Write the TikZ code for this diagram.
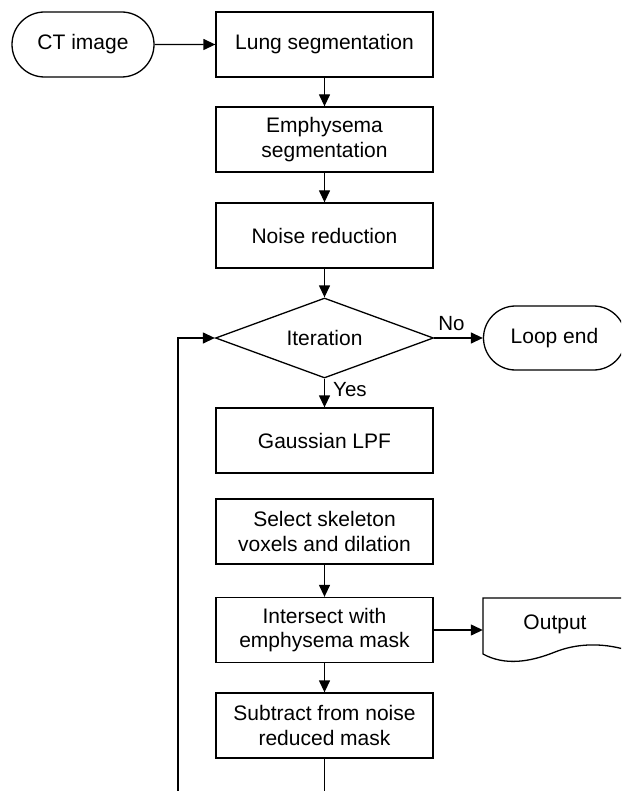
\documentclass[tikz,border=0pt]{standalone}
\usepackage{fontspec}
\setmainfont{Liberation Sans}
\usetikzlibrary{shapes.geometric,shapes.misc,arrows.meta}
\begin{document}
\begin{tikzpicture}[x=1pt,y=-1pt,
  every node/.style={font=\fontsize{21}{24.5}\selectfont, inner sep=0pt},
  procbox/.style={draw, line width=1.3pt, rectangle, minimum width=217pt, minimum height=65pt, align=center},
  term/.style={draw, line width=1.3pt, rounded rectangle, minimum width=142pt, minimum height=65pt},
  decide/.style={draw, line width=1.3pt, diamond, minimum width=218pt, minimum height=80pt, aspect=2.7},
  conn/.style={line width=1.3pt, -{Triangle[length=12pt,width=11pt]}},
  plain/.style={line width=1.3pt},
  lbl/.style={font=\fontsize{20.5}{24}\selectfont}
]
\useasboundingbox (0,0) rectangle (621,791);
\clip (0,0) rectangle (621,791);
\fill[white] (0,0) rectangle (621,791);

\node[term] (ct) at (83,44.5) {CT image};
\node[procbox] (lung) at (324.5,44.5) {Lung segmentation};
\node[procbox] (emph) at (324.5,139.5) {Emphysema\\segmentation};
\node[procbox] (noise) at (324.5,235.5) {Noise reduction};
\node[decide] (iter) at (324.5,338) {Iteration};
\node[term, minimum height=64pt] (loop) at (554.5,338) {Loop end};
\node[procbox] (gauss) at (324.5,440.5) {Gaussian LPF};
\node[procbox] (sel) at (324.5,531.5) {Select skeleton\\voxels and dilation};
\node[procbox] (inter) at (324.5,630) {Intersect with\\emphysema mask};
\node[procbox] (sub) at (324.5,725.5) {Subtract from noise\\reduced mask};

% Output document shape
\draw[plain] (483,598) -- (627,598) -- (627,650)
  .. controls (600,642) and (575,644) .. (555,652)
  .. controls (530,662) and (505,666) .. (483,654) -- cycle;
\node[minimum width=144pt, minimum height=56pt] (out) at (555,630) {};
\node (outtext) at (555,624) {Output};

\node[lbl] (no) at (451.5,324) {No};
\node[lbl, anchor=west] (yes) at (333,390) {Yes};

\coordinate (bottomr) at (324.5,810);
\coordinate (bottoml) at (178,810);
\coordinate (backup) at (178,338);

\draw[conn] (ct) -- (lung);
\draw[conn] (lung) -- (emph);
\draw[conn] (emph) -- (noise);
\draw[conn] (noise) -- (iter.north);
\draw[conn] (iter.east) -- (loop.west);
\draw[conn] (iter.south) -- (gauss);
\draw[conn] (sel) -- (inter);
\draw[conn] (inter.east) -- (out.west);
\draw[conn] (inter) -- (sub);
\draw[conn] (sub.south) -- (bottomr) -- (bottoml) -- (backup) -- (iter.west);
\end{tikzpicture}
\end{document}
